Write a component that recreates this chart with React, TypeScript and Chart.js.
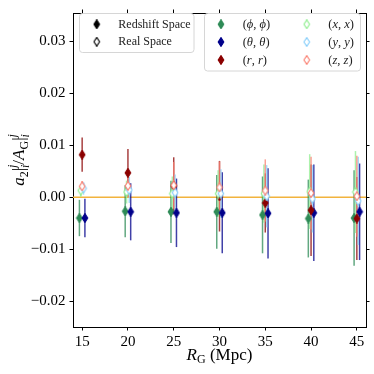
import React, { useEffect, useRef } from 'react';
import { Chart, registerables } from 'chart.js';
Chart.register(...registerables);

// ---- data ----
const radii = [15, 20, 25, 30, 35, 40, 45];
const yTicks = [-0.02, -0.01, 0, 0.01, 0.02, 0.03];

const phiVals = [-0.0040, -0.0027, -0.0028, -0.0028, -0.0034, -0.0041, -0.0040];
const phiErrs = [0.0035, 0.0050, 0.0060, 0.0071, 0.0074, 0.0075, 0.0092];
const thetaVals = [-0.0040, -0.0028, -0.0030, -0.0030, -0.0031, -0.0030, -0.0028];
const thetaErrs = [0.0037, 0.0055, 0.0066, 0.0078, 0.0087, 0.0093, 0.0093];
const rVals = [0.0082, 0.0047, 0.0022, 0.0002, -0.0011, -0.0025, -0.0041];
const rErrs = [0.0033, 0.0046, 0.0055, 0.0068, 0.0057, 0.0088, 0.0080];
const xVals = [0.0013, 0.0010, 0.0007, 0.0007, 0.0007, 0.0011, 0.0010];
const xErrs = [0.0012, 0.0022, 0.0033, 0.0045, 0.0056, 0.0072, 0.0079];
const yVals = [0.0017, 0.0014, 0.0009, 0.0007, 0.0002, -0.0003, -0.0007];
const yErrs = [0.0012, 0.0025, 0.0035, 0.0047, 0.0060, 0.0065, 0.0085];
const zVals = [0.0021, 0.0022, 0.0023, 0.0019, 0.0013, 0.0008, 0.0002];
const zErrs = [0.0010, 0.0022, 0.0045, 0.0050, 0.0060, 0.0070, 0.0078];

const legendSpaces = ['Redshift Space', 'Real Space'];
const seriesSymbols = ['ϕ', 'θ', 'r', 'x', 'y', 'z'];

// ---- styles ----
const FONT = '"Liberation Serif", "DejaVu Serif", serif';
const seriesStyle = [
  { color: '#2e8b57', open: false, off: -0.3 },
  { color: '#00008b', open: false, off: 0.3 },
  { color: '#8b0000', open: false, off: 0 },
  { color: '#90ee90', open: true, off: -0.15 },
  { color: '#87cefa', open: true, off: 0.15 },
  { color: '#fa8072', open: true, off: 0 },
];
const seriesData = [
  [phiVals, phiErrs], [thetaVals, thetaErrs], [rVals, rErrs],
  [xVals, xErrs], [yVals, yErrs], [zVals, zErrs],
];

function rgba(hex: string, a: number) {
  const n = parseInt(hex.slice(1), 16);
  return `rgba(${(n >> 16) & 255},${(n >> 8) & 255},${n & 255},${a})`;
}

function makeMarker(color: string, open: boolean) {
  const c = document.createElement('canvas');
  c.width = 8; c.height = 10;
  const g = c.getContext('2d')!;
  g.beginPath();
  g.moveTo(4, 0.6); g.lineTo(6.8, 5); g.lineTo(4, 9.4); g.lineTo(1.2, 5); g.closePath();
  g.fillStyle = open ? '#ffffff' : color; g.fill();
  g.strokeStyle = color; g.lineWidth = 1.1; g.stroke();
  return c;
}

type Run = { t: string; font: string; dy?: number; t2?: string; dy2?: number };
function runsWidth(ctx: CanvasRenderingContext2D, runs: Run[]) {
  let w = 0;
  for (const r of runs) {
    ctx.font = r.font;
    let m = ctx.measureText(r.t).width;
    if (r.t2) m = Math.max(m, ctx.measureText(r.t2).width);
    w += m;
  }
  return w;
}
function drawRuns(ctx: CanvasRenderingContext2D, runs: Run[], x: number, y: number) {
  let cx = x;
  for (const r of runs) {
    ctx.font = r.font;
    ctx.fillText(r.t, cx, y + (r.dy || 0));
    let m = ctx.measureText(r.t).width;
    if (r.t2) {
      ctx.fillText(r.t2, cx, y + (r.dy2 || 0));
      m = Math.max(m, ctx.measureText(r.t2).width);
    }
    cx += m;
  }
}

const it = (s: number) => `italic ${s}px ${FONT}`;
const up = (s: number) => `${s}px ${FONT}`;

function drawMarkerAt(ctx: CanvasRenderingContext2D, img: HTMLCanvasElement, x: number, y: number) {
  ctx.drawImage(img, x - img.width / 2, y - img.height / 2);
}

function roundBox(ctx: CanvasRenderingContext2D, x: number, y: number, w: number, h: number, r: number) {
  ctx.beginPath();
  ctx.moveTo(x + r, y);
  ctx.lineTo(x + w - r, y); ctx.arcTo(x + w, y, x + w, y + r, r);
  ctx.lineTo(x + w, y + h - r); ctx.arcTo(x + w, y + h, x + w - r, y + h, r);
  ctx.lineTo(x + r, y + h); ctx.arcTo(x, y + h, x, y + h - r, r);
  ctx.lineTo(x, y + r); ctx.arcTo(x, y, x + r, y, r);
  ctx.closePath();
  ctx.fillStyle = 'rgba(255,255,255,0.8)';
  ctx.fill();
  ctx.strokeStyle = '#d6d6d6'; ctx.lineWidth = 1; ctx.stroke();
}

export default function App() {
  const ref = useRef<HTMLCanvasElement>(null);
  useEffect(() => {
    if (!ref.current) return;
    const markers = seriesStyle.map(s => makeMarker(s.color, s.open));
    const blackFilled = makeMarker('#000000', false);
    const blackOpen = makeMarker('#000000', true);

    const deco = {
      id: 'deco',
      beforeDatasetsDraw(chart: any) {
        const { ctx, chartArea: a, scales } = chart;
        const xs = scales.x, ys = scales.y;
        ctx.save();
        ctx.beginPath(); ctx.rect(a.left, a.top, a.right - a.left, a.bottom - a.top); ctx.clip();
        const y0 = ys.getPixelForValue(0);
        ctx.strokeStyle = '#f2b33d'; ctx.lineWidth = 1.5;
        ctx.beginPath(); ctx.moveTo(a.left, y0); ctx.lineTo(a.right, y0); ctx.stroke();
        seriesStyle.forEach((s, k) => {
          const [vals, errs] = seriesData[k];
          ctx.strokeStyle = rgba(s.color, 0.75); ctx.lineWidth = 1.5;
          radii.forEach((r, i) => {
            const px = xs.getPixelForValue(r + s.off);
            ctx.beginPath();
            ctx.moveTo(px, ys.getPixelForValue(vals[i] - errs[i]));
            ctx.lineTo(px, ys.getPixelForValue(vals[i] + errs[i]));
            ctx.stroke();
          });
        });
        ctx.restore();
      },
      afterDraw(chart: any) {
        const { ctx, chartArea: a } = chart;
        ctx.save();
        ctx.fillStyle = '#000';
        // x title
        ctx.textBaseline = 'alphabetic';
        const xr: Run[] = [
          { t: 'R', font: it(17) },
          { t: 'G', font: up(12), dy: 3 },
          { t: ' (Mpc)', font: up(17) },
        ];
        const xw = runsWidth(ctx, xr);
        drawRuns(ctx, xr, (a.left + a.right) / 2 - xw / 2, 360);
        // y title
        const yr: Run[] = [
          { t: 'a', font: it(17) },
          { t: '2', font: up(12), dy: 3.5 },
          { t: '|', font: up(17) },
          { t: 'i', font: it(12), dy: 4.5, t2: 'j', dy2: -8 },
          { t: '/', font: up(17) },
          { t: 'A', font: it(17) },
          { t: 'G', font: up(12), dy: 3.5 },
          { t: '|', font: up(17) },
          { t: 'i', font: it(12), dy: 4.5, t2: 'j', dy2: -8 },
        ];
        ctx.save();
        ctx.translate(24, 160);
        ctx.rotate(-Math.PI / 2);
        const yw = runsWidth(ctx, yr);
        drawRuns(ctx, yr, -yw / 2, 0);
        ctx.restore();

        // legends
        ctx.textBaseline = 'middle';
        roundBox(ctx, 79.5, 13.5, 114.5, 39, 3);
        drawMarkerAt(ctx, blackFilled, 96.7, 24.3);
        drawMarkerAt(ctx, blackOpen, 96.7, 41.7);
        ctx.fillStyle = '#222';
        ctx.font = up(12);
        ctx.fillText(legendSpaces[0], 118.3, 24.8);
        ctx.fillText(legendSpaces[1], 118.3, 42.2);

        roundBox(ctx, 204.5, 13.5, 156, 57.5, 3);
        const rows = [24.3, 42, 60];
        seriesSymbols.forEach((sym, k) => {
          const col = k < 3 ? 0 : 1;
          const row = k % 3;
          const mx = col === 0 ? 221 : 306.7;
          const tx = col === 0 ? 242.7 : 328.3;
          drawMarkerAt(ctx, markers[k], mx, rows[row]);
          ctx.fillStyle = '#222';
          drawRuns(ctx, [
            { t: '(', font: up(12.5) },
            { t: sym, font: it(12.5) },
            { t: ', ', font: up(12.5) },
            { t: sym, font: it(12.5) },
            { t: ')', font: up(12.5) },
          ], tx, rows[row] + 0.5);
        });
        ctx.restore();
      },
    };

    const datasets = seriesStyle.map((s, k) => ({
      label: seriesSymbols[k],
      data: radii.map((r, i) => ({ x: r + s.off, y: seriesData[k][0][i] })),
      pointStyle: markers[k] as any,
      pointRadius: 4,
      order: seriesStyle.length - k,
      showLine: false,
    }));

    const axisCommon = {
      grid: { display: true, drawOnChartArea: false, drawTicks: true, tickLength: 3.5, color: '#000', lineWidth: 1 },
      border: { display: true, color: '#000', width: 1 },
    };

    const chart = new Chart(ref.current, {
      type: 'scatter',
      data: { datasets },
      plugins: [deco],
      options: {
        animation: false,
        responsive: false,
        layout: { padding: 0 },
        plugins: { legend: { display: false }, tooltip: { enabled: false } },
        scales: {
          x: {
            type: 'linear', position: 'bottom', min: 14, max: 46,
            afterBuildTicks: (s: any) => { s.ticks = radii.map(v => ({ value: v })); },
            afterFit: (s: any) => { s.height = 47; },
            ...axisCommon,
            ticks: { color: '#000', font: { family: FONT, size: 15 }, padding: 3, maxRotation: 0, autoSkip: false },
          },
          x2: {
            type: 'linear', axis: 'x', position: 'top', min: 14, max: 46,
            afterBuildTicks: (s: any) => { s.ticks = radii.map(v => ({ value: v })); },
            afterFit: (s: any) => { s.height = 6.5; },
            ...axisCommon,
            ticks: { display: false },
          },
          y: {
            type: 'linear', position: 'left', min: -0.025, max: 0.0355,
            afterBuildTicks: (s: any) => { s.ticks = yTicks.map(v => ({ value: v })); },
            afterFit: (s: any) => { s.width = 73; },
            ...axisCommon,
            ticks: {
              color: '#000', font: { family: FONT, size: 15 }, padding: 4,
              callback: (v: any) => (v < 0 ? '−' : '') + Math.abs(Number(v)).toFixed(2),
            },
          },
          y2: {
            type: 'linear', axis: 'y', position: 'right', min: -0.025, max: 0.0355,
            afterBuildTicks: (s: any) => { s.ticks = yTicks.map(v => ({ value: v })); },
            afterFit: (s: any) => { s.width = 8; },
            ...axisCommon,
            ticks: { display: false },
          },
        } as any,
      },
    } as any);
    return () => chart.destroy();
  }, []);
  return (
    <div style={{ position: 'absolute', left: 0, top: 0, width: 374, height: 374, background: '#fff' }}>
      <canvas ref={ref} width={374} height={374} />
    </div>
  );
}
